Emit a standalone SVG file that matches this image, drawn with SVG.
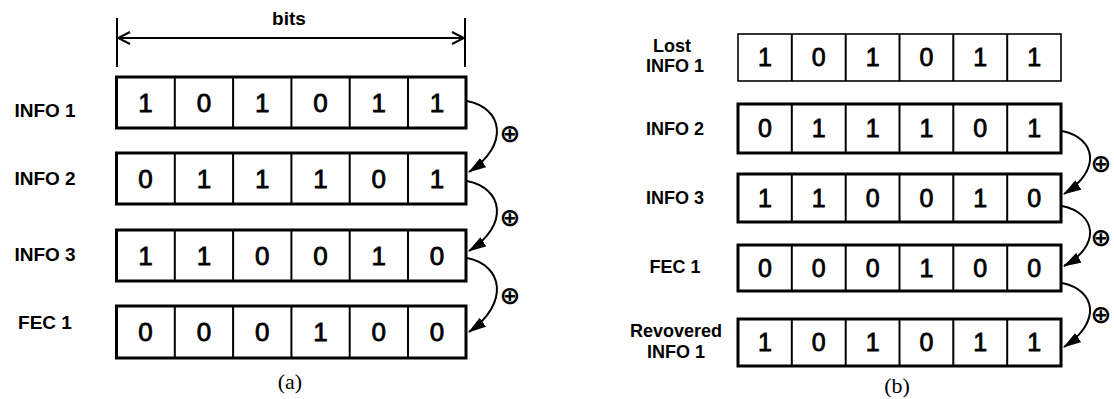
<svg xmlns="http://www.w3.org/2000/svg" width="1114" height="399" viewBox="0 0 1114 399">
  <style>
    .bg { fill: #ffffff; }
    .row { fill: #ffffff; stroke: #000000; stroke-width: 3; }
    .row-thin { fill: #ffffff; stroke: #000000; stroke-width: 1.6; }
    .div { stroke: #000000; stroke-width: 2; }
    .bit { font-family: "Liberation Sans", Arial, sans-serif; font-size: 26px; fill: #000; stroke: #000; stroke-width: 0.8; text-anchor: middle; }
    .bit-b { font-size: 25px; }
    .lbl { font-family: "Liberation Sans", Arial, sans-serif; font-weight: bold; font-size: 19px; fill: #000; text-anchor: middle; }
    .lbl-b { font-size: 18px; }
    .cap { font-family: "Liberation Serif", "Times New Roman", serif; font-size: 22px; fill: #000; text-anchor: middle; }
    .xor { font-family: "DejaVu Sans", sans-serif; font-weight: bold; font-size: 25px; fill: #000; text-anchor: middle; }
    .conn { fill: none; stroke: #000000; stroke-width: 2; }
    .dim { fill: none; stroke: #000000; stroke-width: 2; }
  </style>
  <defs>
    <marker id="head" viewBox="0 0 18 11" refX="17" refY="5.5" markerWidth="18" markerHeight="11" markerUnits="userSpaceOnUse" orient="auto">
      <path d="M0,0 L18,5.5 L0,11 z" fill="#000"/>
    </marker>
    <marker id="open" viewBox="0 0 14 14" refX="13" refY="7" markerWidth="14" markerHeight="14" markerUnits="userSpaceOnUse" orient="auto-start-reverse">
      <path d="M1,1 L13,7 L1,13" fill="none" stroke="#000" stroke-width="2"/>
    </marker>
  </defs>
  <rect class="bg" x="0" y="0" width="1114" height="399"/>

  <!-- (a) encoding: width dimension -->
  <g id="bits-dimension">
    <line class="dim" x1="117" y1="18" x2="117" y2="67"/>
    <line class="dim" x1="465" y1="18" x2="465" y2="67"/>
    <line class="dim" x1="118" y1="38" x2="464" y2="38" marker-start="url(#open)" marker-end="url(#open)"/>
    <text class="lbl" x="289" y="25" font-size="18">bits</text>
  </g>

  <!-- (a) packets -->
  <g id="a-info1">
    <text class="lbl" x="45" y="117">INFO 1</text>
    <rect class="row" x="116.5" y="77" width="349.5" height="51"/>
    <path class="div" d="M174.8,77V128M233.1,77V128M291.4,77V128M349.7,77V128M408,77V128"/>
    <text class="bit" y="112"><tspan x="145.6">1</tspan><tspan x="203.9">0</tspan><tspan x="262.2">1</tspan><tspan x="320.5">0</tspan><tspan x="378.8">1</tspan><tspan x="437.1">1</tspan></text>
  </g>
  <g id="a-info2">
    <text class="lbl" x="45" y="185">INFO 2</text>
    <rect class="row" x="116.5" y="153" width="349.5" height="51"/>
    <path class="div" d="M174.8,153V204M233.1,153V204M291.4,153V204M349.7,153V204M408,153V204"/>
    <text class="bit" y="188"><tspan x="145.6">0</tspan><tspan x="203.9">1</tspan><tspan x="262.2">1</tspan><tspan x="320.5">1</tspan><tspan x="378.8">0</tspan><tspan x="437.1">1</tspan></text>
  </g>
  <g id="a-info3">
    <text class="lbl" x="45" y="261">INFO 3</text>
    <rect class="row" x="116.5" y="230" width="349.5" height="51"/>
    <path class="div" d="M174.8,230V281M233.1,230V281M291.4,230V281M349.7,230V281M408,230V281"/>
    <text class="bit" y="265"><tspan x="145.6">1</tspan><tspan x="203.9">1</tspan><tspan x="262.2">0</tspan><tspan x="320.5">0</tspan><tspan x="378.8">1</tspan><tspan x="437.1">0</tspan></text>
  </g>
  <g id="a-fec1">
    <text class="lbl" x="45" y="329">FEC 1</text>
    <rect class="row" x="116.5" y="306" width="349.5" height="52"/>
    <path class="div" d="M174.8,306V358M233.1,306V358M291.4,306V358M349.7,306V358M408,306V358"/>
    <text class="bit" y="341"><tspan x="145.6">0</tspan><tspan x="203.9">0</tspan><tspan x="262.2">0</tspan><tspan x="320.5">1</tspan><tspan x="378.8">0</tspan><tspan x="437.1">0</tspan></text>
  </g>
  <text class="cap" x="290" y="389">(a)</text>

  <!-- (b) recovery packets -->
  <g id="b-lost-info1">
    <text class="lbl lbl-b" x="672" y="52">Lost</text>
    <text class="lbl lbl-b" x="675" y="72">INFO 1</text>
    <rect class="row-thin" x="738" y="34" width="323" height="47"/>
    <path class="div" d="M791.8,34V81M845.7,34V81M899.5,34V81M953.3,34V81M1007.2,34V81" stroke-width="1.6"/>
    <text class="bit bit-b" y="66"><tspan x="764.9">1</tspan><tspan x="818.7">0</tspan><tspan x="872.6">1</tspan><tspan x="926.4">0</tspan><tspan x="980.2">1</tspan><tspan x="1034.1">1</tspan></text>
  </g>
  <g id="b-info2">
    <text class="lbl lbl-b" x="675" y="135">INFO 2</text>
    <rect class="row" x="738" y="104" width="323" height="49"/>
    <path class="div" d="M791.8,104V153M845.7,104V153M899.5,104V153M953.3,104V153M1007.2,104V153"/>
    <text class="bit bit-b" y="137"><tspan x="764.9">0</tspan><tspan x="818.7">1</tspan><tspan x="872.6">1</tspan><tspan x="926.4">1</tspan><tspan x="980.2">0</tspan><tspan x="1034.1">1</tspan></text>
  </g>
  <g id="b-info3">
    <text class="lbl lbl-b" x="675" y="204">INFO 3</text>
    <rect class="row" x="738" y="174" width="323" height="48"/>
    <path class="div" d="M791.8,174V222M845.7,174V222M899.5,174V222M953.3,174V222M1007.2,174V222"/>
    <text class="bit bit-b" y="207"><tspan x="764.9">1</tspan><tspan x="818.7">1</tspan><tspan x="872.6">0</tspan><tspan x="926.4">0</tspan><tspan x="980.2">1</tspan><tspan x="1034.1">0</tspan></text>
  </g>
  <g id="b-fec1">
    <text class="lbl lbl-b" x="675" y="273">FEC 1</text>
    <rect class="row" x="738" y="245" width="323" height="46"/>
    <path class="div" d="M791.8,245V291M845.7,245V291M899.5,245V291M953.3,245V291M1007.2,245V291"/>
    <text class="bit bit-b" y="277"><tspan x="764.9">0</tspan><tspan x="818.7">0</tspan><tspan x="872.6">0</tspan><tspan x="926.4">1</tspan><tspan x="980.2">0</tspan><tspan x="1034.1">0</tspan></text>
  </g>
  <g id="b-recovered-info1">
    <text class="lbl lbl-b" x="676" y="337">Revovered</text>
    <text class="lbl lbl-b" x="676" y="358">INFO 1</text>
    <rect class="row" x="738" y="319" width="323" height="47"/>
    <path class="div" d="M791.8,319V366M845.7,319V366M899.5,319V366M953.3,319V366M1007.2,319V366"/>
    <text class="bit bit-b" y="351"><tspan x="764.9">1</tspan><tspan x="818.7">0</tspan><tspan x="872.6">1</tspan><tspan x="926.4">0</tspan><tspan x="980.2">1</tspan><tspan x="1034.1">1</tspan></text>
  </g>
  <text class="cap" x="897" y="393">(b)</text>

  <!-- XOR chains -->
  <g id="connectors">
    <path class="conn" d="M467,101 C503,108 510,145 469,172" marker-end="url(#head)"/>
    <path class="conn" d="M467,181 C503,188 510,225 469,251" marker-end="url(#head)"/>
    <path class="conn" d="M467,258 C503,265 510,303 469,332" marker-end="url(#head)"/>
    <text class="xor" x="510" y="142">⊕</text>
    <text class="xor" x="510" y="226">⊕</text>
    <text class="xor" x="510" y="304">⊕</text>

    <path class="conn" d="M1062,131 C1096,138 1102,170 1064,194" marker-end="url(#head)"/>
    <path class="conn" d="M1062,206 C1096,213 1102,245 1064,266" marker-end="url(#head)"/>
    <path class="conn" d="M1062,283 C1096,290 1102,322 1064,347" marker-end="url(#head)"/>
    <text class="xor" x="1101" y="172">⊕</text>
    <text class="xor" x="1101" y="246">⊕</text>
    <text class="xor" x="1101" y="323">⊕</text>
  </g>
</svg>
